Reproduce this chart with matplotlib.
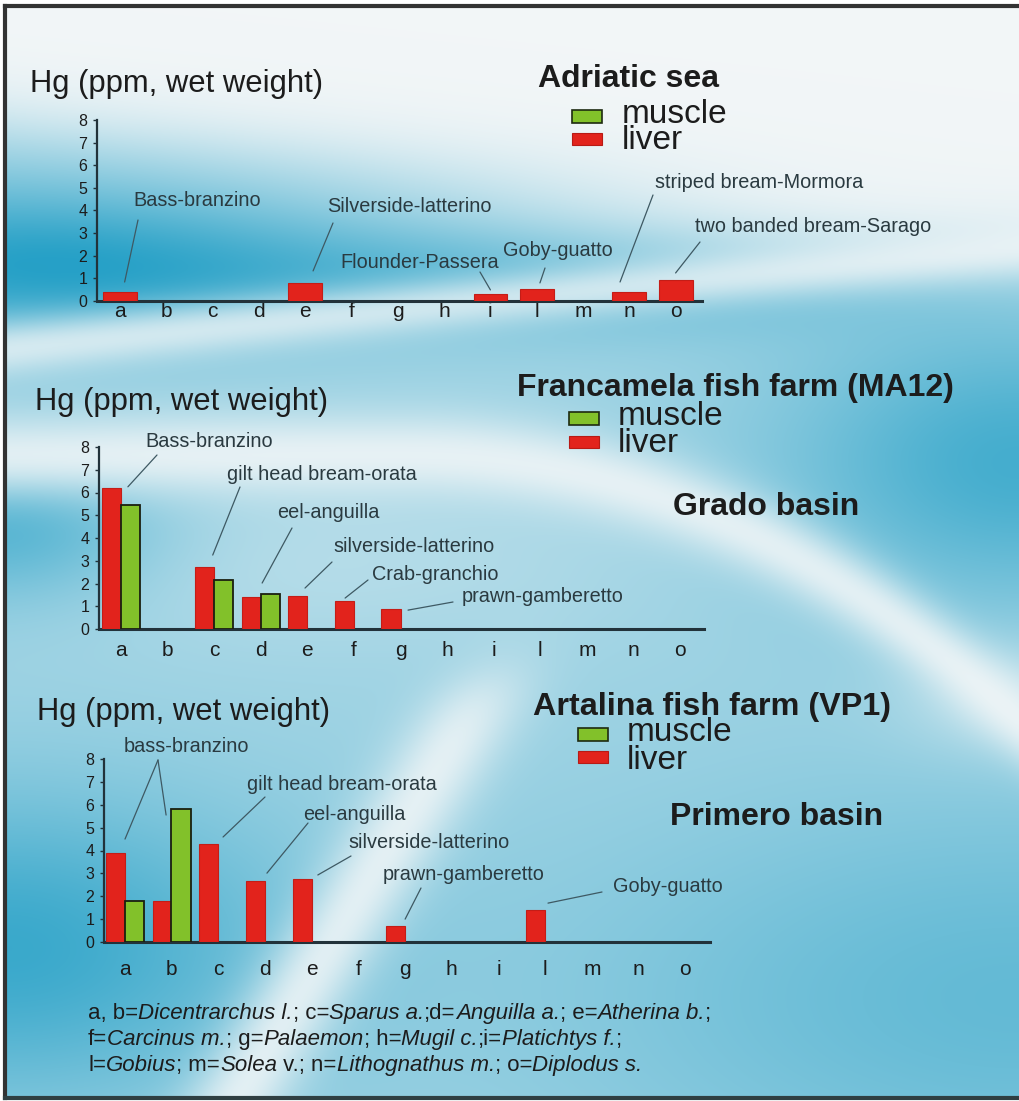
import numpy as np
import matplotlib
matplotlib.use("Agg")
import matplotlib.pyplot as plt
from matplotlib.patches import Rectangle
from matplotlib.lines import Line2D

# ---------------- data ----------------
categories = ['a', 'b', 'c', 'd', 'e', 'f', 'g', 'h', 'i', 'l', 'm', 'n', 'o']
nan = np.nan
adriatic_liver = [0.40, nan, nan, nan, 0.80, nan, nan, nan, 0.30, 0.53, nan, 0.40, 0.93]
grado_liver = [6.20, nan, 2.73, 1.41, 1.45, 1.23, 0.88, nan, nan, nan, nan, nan, nan]
grado_muscle = [5.45, nan, 2.15, 1.54, nan, nan, nan, nan, nan, nan, nan, nan, nan]
primero_liver = [3.90, 1.80, 4.28, 2.66, 2.74, nan, 0.70, nan, nan, 1.40, nan, nan, nan]
primero_muscle = [1.78, 5.80, nan, nan, nan, nan, nan, nan, nan, nan, nan, nan, nan]
yticks = [0, 1, 2, 3, 4, 5, 6, 7, 8]

ylabel = "Hg (ppm, wet weight)"
series_labels = ["muscle", "liver"]

W, H = 1019, 1101
FONT = ['Liberation Sans', 'DejaVu Sans']
plt.rcParams['font.family'] = FONT

RED = '#e2231c'
GREEN = '#82c12a'
AXC = '#22323a'
TXT = '#1c1c1c'
ANN = '#2a3a40'
LEAD = '#3e5963'

fig = plt.figure(figsize=(W / 100, H / 100), dpi=100)
renderer = fig.canvas.get_renderer()

def fx(x):
    return x / W

def fy(y):
    return 1 - y / H

# ---------------- background ----------------
yy, xx = np.mgrid[0:H:2, 0:W:2].astype(float)

def g(cx, cy, sx, sy):
    return np.exp(-(((xx - cx) / sx) ** 2 + ((yy - cy) / sy) ** 2) / 2)

def sig(z):
    return 1 / (1 + np.exp(-z))

b = 0.40 + 0 * xx
b += 0.5 * g(0, 255, 220, 60)
b += 0.25 * g(380, 270, 280, 40)
b += 0.15 * g(650, 285, 200, 35)
b += 0.45 * g(1019, 460, 170, 100)
b += 0.4 * g(0, 525, 110, 55)
b += 0.5 * g(0, 950, 200, 110)
b += 0.3 * g(1019, 1000, 330, 150)
b -= 0.3 * g(880, 190, 280, 55)
b -= 0.1 * g(300, 560, 250, 60)
b = np.clip(b, 0, 1)
b *= sig((yy - (118 + 0.1 * xx)) / 22)

bands = []
yc1 = 345 - 0.1 * xx
bands.append(0.75 * np.exp(-((yy - yc1) / 20) ** 2 / 2))
yc2 = 452 + 250 * np.clip((xx - 400) / 600, 0, None) ** 2.1
bands.append(0.85 * np.exp(-((yy - yc2) / 30) ** 2 / 2))
xc3 = 480 - (yy - 690) * 0.6
bands.append(0.85 * np.exp(-((xx - xc3) / 38) ** 2 / 2) * sig((yy - 680) / 20))
bands.append(0.5 * g(1019, 700, 80, 40))
keep = np.ones_like(b)
for bd in bands:
    keep *= (1 - bd)
b = b * keep

white = np.array([0.95, 0.965, 0.97])
blue = np.array([0.15, 0.63, 0.78])
img = white[None, None, :] + (blue - white)[None, None, :] * b[..., None]

bg = fig.add_axes([0, 0, 1, 1], zorder=-5)
bg.imshow(img, extent=[5, W, 1098, 6], aspect='auto', interpolation='bilinear')
bg.set_xlim(0, W)
bg.set_ylim(H, 0)
bg.axis('off')
bg.add_line(Line2D([5, 5], [6, 1098], color='#333333', lw=3))
bg.add_line(Line2D([5, W], [6, 6], color='#333333', lw=3))
bg.add_line(Line2D([5, W], [1098, 1098], color='#2f3f42', lw=3))

# ---------------- charts ----------------
def make_axes(left, right, top, bottom, xmin, xmax, xpad):
    ax = fig.add_axes([fx(left), fy(bottom), (right - left) / W, (bottom - top) / H])
    ax.set_facecolor('none')
    ax.set_xlim(xmin, xmax)
    ax.set_ylim(0, 8)
    for s in ['top', 'right']:
        ax.spines[s].set_visible(False)
    ax.spines['left'].set_color(AXC)
    ax.spines['left'].set_linewidth(1.6)
    ax.spines['bottom'].set_color(AXC)
    ax.spines['bottom'].set_linewidth(2.2)
    ax.set_yticks(yticks)
    ax.set_xticks(range(len(categories)))
    ax.set_xticklabels(categories)
    ax.tick_params(axis='y', length=3, width=1, color=AXC, labelsize=11.5, pad=4, labelcolor=TXT)
    ax.tick_params(axis='x', length=0, labelsize=15, pad=xpad, labelcolor=TXT)
    return ax

def draw_bars(ax, vals, offset, width, color, ec, lw):
    x = np.arange(len(categories))
    v = np.array(vals, dtype=float)
    m = ~np.isnan(v)
    ax.bar(x[m] + offset, v[m], width=width, color=color, edgecolor=ec, linewidth=lw, zorder=3)

def leader(ax, text, tx, ty, sx, sy, cat, val, dx, dy):
    if text:
        fig.text(fx(tx), fy(ty), text, fontsize=14.3, color=ANN, ha='left', va='center')
    i = categories.index(cat)
    ax.annotate('', xy=(i + dx, val + dy), xycoords='data',
                xytext=(sx, H - sy), textcoords='figure pixels',
                arrowprops=dict(arrowstyle='-', color=LEAD, lw=0.9, shrinkA=0, shrinkB=0),
                annotation_clip=False)

# metrics of one legend text line, used to set the line pitch of the two-line legend label
_probe = fig.text(0, 0, "lp", fontsize=24)
_w, _h, _d = renderer.get_text_width_height_descent("lp", _probe.get_fontproperties(), ismath=False)
_probe.remove()
LEG_ASCENT = _h - _d
LEG_DESC = _d

def legend_block(x_box, y_green, y_red, x_text, base_m, base_l):
    fig.add_artist(Rectangle((fx(x_box), fy(y_green + 13)), 30 / W, 13 / H,
                             transform=fig.transFigure, facecolor=GREEN, edgecolor='#1e2a10', lw=1.2))
    fig.add_artist(Rectangle((fx(x_box), fy(y_red + 12)), 30 / W, 12 / H,
                             transform=fig.transFigure, facecolor=RED, edgecolor='#b81a15', lw=0.8))
    ls = (base_l - base_m - LEG_DESC) / LEG_ASCENT
    fig.text(fx(x_text), fy(base_l), "\n".join(series_labels), fontsize=24, color=TXT,
             va='baseline', linespacing=ls)

def title(x, y, s, size=22.5):
    fig.text(fx(x), fy(y), s, fontsize=size, fontweight='bold', color=TXT, va='baseline')

# --- Adriatic sea ---
ax1 = make_axes(97, 702, 120, 301, -0.497, 12.57, 1)
draw_bars(ax1, adriatic_liver, 0, 0.73, RED, '#c41d17', 0.8)
fig.text(fx(30), fy(92), ylabel, fontsize=22.3, color=TXT, va='baseline')
title(538, 87, "Adriatic sea", 23)
legend_block(572, 110, 133, 622, 123, 149)
leader(ax1, "Bass-branzino", 133, 201, 138, 220, 'a', adriatic_liver[0], 0.1, 0.44)
leader(ax1, "Silverside-latterino", 327, 207, 333, 223, 'e', adriatic_liver[4], 0.17, 0.53)
leader(ax1, "Flounder-Passera", 340, 262, 480, 272, 'i', adriatic_liver[8], 0.0, 0.19)
leader(ax1, "Goby-guatto", 503, 251, 545, 268, 'l', adriatic_liver[9], 0.07, 0.27)
leader(ax1, "striped bream-Mormora", 655, 182, 653, 195, 'n', adriatic_liver[11], -0.2, 0.44)
leader(ax1, "two banded bream-Sarago", 695, 227, 700, 242, 'o', adriatic_liver[12], 0.0, 0.31)

# --- Grado basin ---
ax2 = make_axes(99, 704, 447, 629, -0.47, 12.51, 9)
draw_bars(ax2, grado_liver, -0.205, 0.41, RED, '#c41d17', 0.8)
draw_bars(ax2, grado_muscle, 0.205, 0.42, GREEN, '#1a1f10', 1.3)
fig.text(fx(35), fy(410), ylabel, fontsize=22.3, color=TXT, va='baseline')
title(517, 396, "Francamela fish farm (MA12)", 23)
title(673, 515, "Grado basin", 23)
legend_block(569, 412, 436, 618, 425, 452)
leader(ax2, "Bass-branzino", 145, 442, 157, 455, 'a', grado_liver[0], 0.15, 0.05)
leader(ax2, "gilt head bream-orata", 227, 475, 240, 487, 'c', grado_liver[2], -0.03, 0.52)
leader(ax2, "eel-anguilla", 277, 513, 292, 528, 'd', grado_liver[3], 0.03, 0.61)
leader(ax2, "silverside-latterino", 333, 546, 332, 562, 'e', grado_liver[4], -0.05, 0.35)
leader(ax2, "Crab-granchio", 372, 574, 368, 580, 'f', grado_liver[5], -0.19, 0.13)
leader(ax2, "prawn-gamberetto", 462, 597, 453, 602, 'g', grado_liver[6], 0.16, -0.05)

# --- Primero basin ---
ax3 = make_axes(104, 710, 759, 942, -0.45, 12.53, 13)
draw_bars(ax3, primero_liver, -0.205, 0.41, RED, '#c41d17', 0.8)
draw_bars(ax3, primero_muscle, 0.205, 0.42, GREEN, '#1a1f10', 1.3)
fig.text(fx(37), fy(720), ylabel, fontsize=22.3, color=TXT, va='baseline')
title(533, 715, "Artalina fish farm (VP1)", 23.3)
title(670, 825, "Primero basin", 23)
legend_block(578, 728, 751, 627, 741, 769)
leader(ax3, "bass-branzino", 124, 747, 158, 760, 'a', primero_liver[0], 0.0, 0.6)
leader(ax3, "", 124, 747, 158, 760, 'b', primero_muscle[1], -0.12, -0.25)
leader(ax3, "gilt head bream-orata", 247, 784, 265, 797, 'c', primero_liver[2], 0.1, 0.31)
leader(ax3, "eel-anguilla", 303, 814, 308, 823, 'd', primero_liver[3], 0.04, 0.35)
leader(ax3, "silverside-latterino", 348, 843, 351, 856, 'e', primero_liver[4], 0.13, 0.19)
leader(ax3, "prawn-gamberetto", 383, 875, 421, 888, 'g', primero_liver[6], 0.0, 0.3)
leader(ax3, "Goby-guatto", 613, 887, 602, 892, 'l', primero_liver[9], 0.06, 0.3)

# ---------------- footnote ----------------
foot_lines = [
    [("a, b=", False), ("Dicentrarchus l.", True), ("; c=", False), ("Sparus a.", True),
     (";d=", False), ("Anguilla a.", True), ("; e=", False), ("Atherina b.", True), (";", False)],
    [("f=", False), ("Carcinus m.", True), ("; g=", False), ("Palaemon", True), ("; h=", False),
     ("Mugil c.", True), (";i=", False), ("Platichtys f.", True), (";", False)],
    [("l=", False), ("Gobius", True), ("; m=", False), ("Solea", True), (" v.; n=", False),
     ("Lithognathus m.", True), ("; o=", False), ("Diplodus s.", True)],
]
for li, parts in enumerate(foot_lines):
    x = 88
    ybase = 1019 + 26 * li
    for txt, it in parts:
        t = fig.text(fx(x), fy(ybase), txt, fontsize=16, family=FONT,
                     style='italic' if it else 'normal', color=TXT, va='baseline')
        x += t.get_window_extent(renderer).width

fig.savefig('out.png', dpi=100)
